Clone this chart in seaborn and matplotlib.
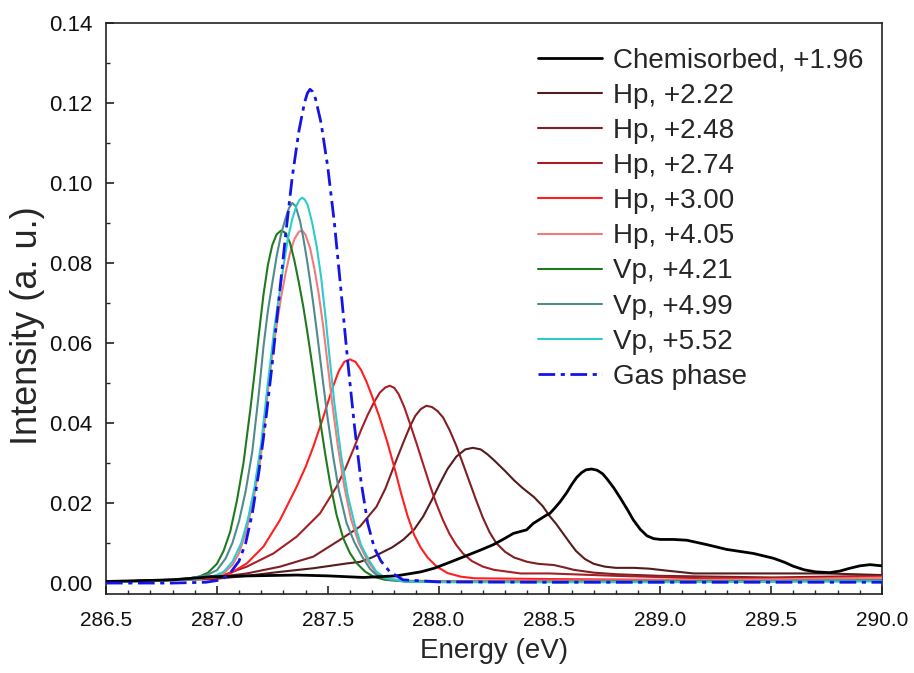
import numpy as np
import pandas as pd
import matplotlib
matplotlib.use('Agg')
import matplotlib.pyplot as plt
from matplotlib.ticker import MultipleLocator, FormatStrFormatter
import seaborn as sns

# values
chem_x = [286.5, 286.8, 286.983, 287.15, 287.36, 287.5, 287.66, 287.81, 287.92, 287.98,
          288.037, 288.11, 288.187, 288.247, 288.30, 288.337, 288.397, 288.427, 288.487,
          288.502, 288.525, 288.548, 288.578, 288.60, 288.623, 288.645, 288.665, 288.69,
          288.715, 288.74, 288.76, 288.79, 288.818, 288.85, 288.878, 288.91, 288.94,
          288.97, 289.0, 289.06, 289.12, 289.21, 289.30, 289.42, 289.51, 289.56, 289.60,
          289.65, 289.70, 289.765, 289.81, 289.855, 289.90, 289.946, 290.0]
chem_y = [0.0004, 0.0008, 0.0016, 0.0018, 0.0020, 0.0018, 0.0014, 0.0018, 0.0028, 0.0037,
          0.0049, 0.0065, 0.0082, 0.0096, 0.0112, 0.0124, 0.0133, 0.0149, 0.0170,
          0.0174, 0.0188, 0.0203, 0.0226, 0.0246, 0.0264, 0.0276, 0.0283, 0.0285,
          0.0282, 0.0273, 0.0260, 0.0238, 0.0214, 0.0185, 0.0158, 0.0134, 0.0118,
          0.0111, 0.0109, 0.0109, 0.0107, 0.0096, 0.0084, 0.0074, 0.0062, 0.0052, 0.0042,
          0.0033, 0.0028, 0.0026, 0.0030, 0.0037, 0.0043, 0.0046, 0.0043]

hp222_x = [286.5, 286.98, 287.135, 287.285, 287.435, 287.586, 287.646, 287.70, 287.736,
           287.79, 287.84, 287.89, 287.93, 287.97, 288.006, 288.04, 288.08, 288.12, 288.155,
           288.19, 288.22, 288.25, 288.30, 288.34, 288.38, 288.43, 288.47, 288.50, 288.53,
           288.56, 288.59, 288.62, 288.66, 288.70, 288.75, 288.80, 288.88, 288.95, 289.03,
           289.15, 289.45, 289.75, 290.0]
hp222_y = [0.0003, 0.0010, 0.0018, 0.0028, 0.0037, 0.0049, 0.0053, 0.0064, 0.0074,
           0.0089, 0.0108, 0.0134, 0.0166, 0.0208, 0.0249, 0.0285, 0.0316, 0.0334, 0.0338,
           0.0334, 0.0322, 0.0307, 0.0280, 0.0257, 0.0237, 0.0215, 0.0192, 0.0168, 0.0148,
           0.0125, 0.0102, 0.0080, 0.0060, 0.0048, 0.0041, 0.0038, 0.0038, 0.0036, 0.0031,
           0.0024, 0.0024, 0.0024, 0.0020]

hp248_x = [286.5, 286.8, 286.98, 287.135, 287.285, 287.435, 287.555, 287.645, 287.72,
           287.76, 287.80, 287.84, 287.87, 287.895, 287.92, 287.945, 287.97, 287.995,
           288.02, 288.05, 288.08, 288.11, 288.14, 288.17, 288.20, 288.23, 288.26, 288.30,
           288.34, 288.40, 288.45, 288.52, 288.56, 288.61, 288.70, 288.80, 289.0, 289.5,
           290.0]
hp248_y = [0.0003, 0.0008, 0.0013, 0.0024, 0.0041, 0.0066, 0.0108, 0.0141, 0.0191,
           0.0236, 0.0294, 0.0350, 0.0390, 0.0418, 0.0435, 0.0443, 0.0440, 0.0430,
           0.0414, 0.0382, 0.0343, 0.0298, 0.0252, 0.0206, 0.0163, 0.0127, 0.0100, 0.0078,
           0.0064, 0.0053, 0.0048, 0.0045, 0.0040, 0.0033, 0.0026, 0.0022, 0.0018, 0.0014,
           0.0018]

hp274_x = [286.5, 286.8, 287.03, 287.135, 287.255, 287.36, 287.465, 287.54, 287.58,
           287.615, 287.65, 287.68, 287.71, 287.735, 287.76, 287.78, 287.80, 287.82,
           287.845, 287.87, 287.90, 287.93, 287.96, 287.99, 288.02, 288.05, 288.08, 288.11,
           288.15, 288.20, 288.25, 288.37, 288.50, 288.80, 289.2, 289.6, 290.0]
hp274_y = [0.0003, 0.0008, 0.0020, 0.0041, 0.0074, 0.0116, 0.0174, 0.0241, 0.0287,
           0.0333, 0.0382, 0.0420, 0.0453, 0.0476, 0.0489, 0.0493, 0.0488, 0.0472,
           0.0440, 0.0400, 0.0350, 0.0298, 0.0246, 0.0198, 0.0157, 0.0122, 0.0095, 0.0074,
           0.0055, 0.0041, 0.0033, 0.0024, 0.0024, 0.0018, 0.0012, 0.0012, 0.0016]

hp300_x = [286.5, 286.8, 286.98, 287.06, 287.135, 287.21, 287.285, 287.36, 287.40,
           287.435, 287.47, 287.50, 287.525, 287.55, 287.575, 287.60, 287.625, 287.65,
           287.675, 287.70, 287.735, 287.77, 287.80, 287.83, 287.86, 287.89, 287.92, 287.95,
           287.99, 288.04, 288.10, 288.16, 288.5, 289.0, 289.5, 290.0]
hp300_y = [0.0003, 0.0008, 0.0012, 0.0024, 0.0049, 0.0091, 0.0158, 0.0241, 0.0290,
           0.0341, 0.0398, 0.0450, 0.0493, 0.0530, 0.0553, 0.0559, 0.0553, 0.0533,
           0.0503, 0.0467, 0.0412, 0.0350, 0.0290, 0.0226, 0.0168, 0.0120, 0.0088, 0.0064,
           0.0042, 0.0025, 0.0016, 0.0012, 0.0010, 0.0008, 0.0010, 0.0015]

hp405_x = [286.5, 286.7, 286.9, 286.98, 287.03, 287.07, 287.10, 287.13, 287.16, 287.19,
           287.21, 287.23, 287.25, 287.27, 287.29, 287.31, 287.33, 287.35, 287.37, 287.385,
           287.40, 287.42, 287.44, 287.46, 287.48, 287.50, 287.52, 287.545, 287.575, 287.605,
           287.64, 287.68, 287.72, 287.77, 287.85, 288.0, 288.5, 289.0, 289.5, 290.0]
hp405_y = [0.0003, 0.0006, 0.0010, 0.0015, 0.0024, 0.0045, 0.0075, 0.0125, 0.0195, 0.0285,
           0.0370, 0.0480, 0.0570, 0.0645, 0.0715, 0.0775, 0.0825, 0.0860, 0.0878, 0.0881,
           0.0870, 0.0838, 0.0785, 0.0720, 0.0640, 0.0545, 0.0450, 0.0345, 0.0240, 0.0160,
           0.0100, 0.0055, 0.0025, 0.0010, 0.0006, 0.0005, 0.0006, 0.0007, 0.0009, 0.0013]

vp421_x = [286.5, 286.7, 286.85, 286.92, 286.96, 287.0, 287.03, 287.06, 287.09, 287.12,
           287.15, 287.17, 287.19, 287.21, 287.23, 287.25, 287.27, 287.29, 287.31, 287.33,
           287.35, 287.37, 287.39, 287.41, 287.43, 287.45, 287.47, 287.49, 287.51, 287.54,
           287.57, 287.60, 287.63, 287.67, 287.71, 287.76, 287.85, 288.0, 288.5, 289.0,
           289.5, 290.0]
vp421_y = [0.0003, 0.0006, 0.0010, 0.0016, 0.0026, 0.0048, 0.0080, 0.0128, 0.0205, 0.0300,
           0.0430, 0.0525, 0.0625, 0.0720, 0.0795, 0.0845, 0.0872, 0.0881, 0.0875, 0.0850,
           0.0805, 0.0750, 0.0690, 0.0620, 0.0545, 0.0465, 0.0390, 0.0318, 0.0252, 0.0170,
           0.0112, 0.0075, 0.0050, 0.0028, 0.0015, 0.0008, 0.0004, 0.0003, 0.0003, 0.0004,
           0.0005, 0.0007]

vp499_x = [286.5, 286.7, 286.88, 286.95, 287.0, 287.04, 287.07, 287.10, 287.13, 287.16,
           287.19, 287.21, 287.23, 287.25, 287.27, 287.29, 287.31, 287.325, 287.34, 287.355,
           287.375, 287.39, 287.405, 287.42, 287.435, 287.45, 287.465, 287.48, 287.50,
           287.525, 287.55, 287.585, 287.62, 287.655, 287.69, 287.72, 287.77, 287.85, 288.0,
           288.5, 289.0, 289.5, 290.0]
vp499_y = [0.0003, 0.0006, 0.0012, 0.0019, 0.0032, 0.0062, 0.0100, 0.0155, 0.0230, 0.0330,
           0.0478, 0.0590, 0.0680, 0.0750, 0.0818, 0.0873, 0.0912, 0.0937, 0.0950, 0.0942,
           0.0905, 0.0862, 0.0812, 0.0757, 0.0697, 0.0632, 0.0565, 0.0497, 0.0410,
           0.0315, 0.0232, 0.0150, 0.0102, 0.0066, 0.0036, 0.0020, 0.0009, 0.0004, 0.0003,
           0.0003, 0.0004, 0.0005, 0.0007]

vp552_x = [286.5, 286.7, 286.9, 286.98, 287.03, 287.07, 287.11, 287.14, 287.17, 287.20,
           287.23, 287.26, 287.28, 287.30, 287.32, 287.34, 287.36, 287.373, 287.385, 287.397,
           287.41, 287.43, 287.45, 287.47, 287.49, 287.51, 287.53, 287.56, 287.59, 287.62,
           287.65, 287.685, 287.72, 287.76, 287.85, 288.0, 288.5, 289.0, 289.5, 290.0]
vp552_y = [0.0002, 0.0005, 0.0010, 0.0016, 0.0028, 0.0053, 0.0100, 0.0160, 0.0240, 0.0350,
           0.0500, 0.0640, 0.0715, 0.0791, 0.0860, 0.0910, 0.0944, 0.0958, 0.0963, 0.0958,
           0.0944, 0.0900, 0.0842, 0.0765, 0.0665, 0.0555, 0.0450, 0.0320, 0.0220, 0.0150,
           0.0095, 0.0058, 0.0028, 0.0013, 0.0004, 0.0002, 0.0002, 0.0002, 0.0003, 0.0004]

gas_x = [286.5, 286.8, 286.95, 287.02, 287.06, 287.10, 287.13, 287.16, 287.19, 287.22,
         287.25, 287.28, 287.31, 287.34, 287.37, 287.395, 287.408, 287.42, 287.432, 287.445,
         287.47, 287.50, 287.53, 287.56, 287.59, 287.62, 287.65, 287.68, 287.71, 287.74,
         287.78, 287.84, 288.0, 288.5, 289.0, 289.5, 290.0]
gas_y = [0.0, 0.0, 0.0002, 0.0008, 0.0025, 0.0055, 0.0100, 0.0175, 0.0280, 0.0405,
         0.0550, 0.0710, 0.0870, 0.1015, 0.1130, 0.1200, 0.1224, 0.1234, 0.1228, 0.1210,
         0.1150, 0.1040, 0.0900, 0.0730, 0.0555, 0.0395, 0.0255, 0.0150, 0.0088, 0.0055,
         0.0028, 0.0008, 0.0003, 0.0002, 0.0002, 0.0002, 0.0002]

labels = ['Chemisorbed, +1.96', 'Hp, +2.22', 'Hp, +2.48', 'Hp, +2.74', 'Hp, +3.00',
          'Hp, +4.05', 'Vp, +4.21', 'Vp, +4.99', 'Vp, +5.52', 'Gas phase']
colors = ['#000000', '#551c1c', '#7f1f22', '#a81e26', '#ff1f1f',
          '#f47a7a', '#1f7a1f', '#4f8c8c', '#2ccccc', '#1414e6']
xs = [chem_x, hp222_x, hp248_x, hp274_x, hp300_x, hp405_x, vp421_x, vp499_x, vp552_x, gas_x]
ys = [chem_y, hp222_y, hp248_y, hp274_y, hp300_y, hp405_y, vp421_y, vp499_y, vp552_y, gas_y]

sns.set_theme(style='ticks')
plt.rcParams['font.family'] = ['Liberation Sans', 'DejaVu Sans']

fig, ax = plt.subplots(figsize=(9.14, 6.73), dpi=100)
fig.subplots_adjust(left=0.116, right=0.965, top=0.966, bottom=0.117)

for x, y, lab, col in zip(xs, ys, labels, colors):
    df = pd.DataFrame({'x': x, 'y': y})
    if lab == 'Gas phase':
        sns.lineplot(data=df, x='x', y='y', ax=ax, color=col, linewidth=2.0,
                     linestyle=(0, (6, 2, 1.5, 2)), label=lab, sort=False, zorder=5)
    elif lab.startswith('Chem'):
        sns.lineplot(data=df, x='x', y='y', ax=ax, color=col, linewidth=2.0,
                     label=lab, sort=False, zorder=4)
    else:
        sns.lineplot(data=df, x='x', y='y', ax=ax, color=col, linewidth=1.5,
                     label=lab, sort=False, zorder=3)

ax.set_xlim(286.5, 290.0)
ax.set_ylim(-0.0028, 0.14)
ax.xaxis.set_major_locator(MultipleLocator(0.5))
ax.xaxis.set_minor_locator(MultipleLocator(0.1))
ax.yaxis.set_major_locator(MultipleLocator(0.02))
ax.yaxis.set_minor_locator(MultipleLocator(0.01))
ax.xaxis.set_major_formatter(FormatStrFormatter('%.1f'))
ax.yaxis.set_major_formatter(FormatStrFormatter('%.2f'))
ax.tick_params(which='major', direction='in', length=6, width=1.1, colors='#111111')
ax.tick_params(which='minor', direction='in', length=3, width=1.0)
ax.tick_params(axis='x', which='major', labelsize=15, pad=12)
ax.tick_params(axis='y', which='major', labelsize=16, pad=10)
for s in ax.spines.values():
    s.set_linewidth(1.2)
    s.set_color('#222222')

ax.set_xlabel('Energy (eV)', fontsize=20, labelpad=6)
ax.set_ylabel('Intensity (a. u.)', fontsize=26)
ax.yaxis.set_label_coords(-0.078, 0.471)

ax.legend(loc='upper left', bbox_to_anchor=(0.557, 0.957), frameon=False, fontsize=20,
          handlelength=2.3, handletextpad=0.38, labelspacing=0.33, borderpad=0,
          borderaxespad=0)

fig.savefig('out.png', dpi=100)
